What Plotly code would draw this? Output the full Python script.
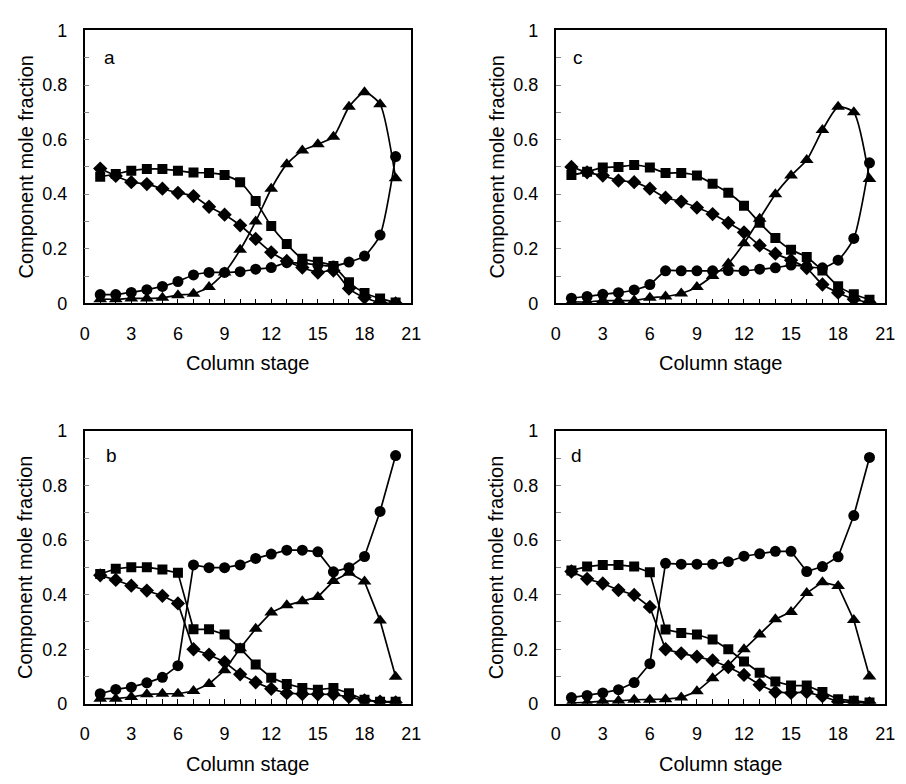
import plotly.graph_objects as go

stages = list(range(1, 21))

# Panel a
a_diamond = [0.494, 0.467, 0.444, 0.437, 0.42, 0.405, 0.393, 0.354, 0.325, 0.286,
             0.236, 0.187, 0.155, 0.131, 0.113, 0.12, 0.054, 0.021, 0.003, 0.0]
a_square = [0.464, 0.474, 0.486, 0.492, 0.492, 0.486, 0.479, 0.478, 0.47, 0.444,
            0.375, 0.283, 0.217, 0.163, 0.152, 0.137, 0.077, 0.038, 0.018, 0.003]
a_triangle = [0.015, 0.015, 0.018, 0.018, 0.02, 0.03, 0.035, 0.06, 0.113, 0.196,
              0.30, 0.42, 0.51, 0.56, 0.583, 0.61, 0.72, 0.774, 0.73, 0.458]
a_circle = [0.032, 0.032, 0.04, 0.05, 0.062, 0.08, 0.104, 0.113, 0.113, 0.116,
            0.125, 0.131, 0.149, 0.147, 0.14, 0.137, 0.151, 0.173, 0.25, 0.538]

# Panel c
c_diamond = [0.50, 0.48, 0.468, 0.45, 0.444, 0.42, 0.387, 0.373, 0.351, 0.327,
             0.295, 0.26, 0.212, 0.182, 0.158, 0.129, 0.069, 0.039, 0.015, 0.003]
c_square = [0.47, 0.482, 0.498, 0.50, 0.507, 0.498, 0.478, 0.478, 0.468, 0.438,
            0.405, 0.358, 0.295, 0.239, 0.196, 0.17, 0.12, 0.063, 0.033, 0.013]
c_triangle = [0.005, 0.005, 0.01, 0.01, 0.01, 0.02, 0.025, 0.036, 0.06, 0.10,
              0.146, 0.22, 0.31, 0.40, 0.468, 0.525, 0.635, 0.72, 0.70, 0.456]
c_circle = [0.019, 0.025, 0.033, 0.039, 0.049, 0.069, 0.119, 0.119, 0.119, 0.119,
            0.12, 0.119, 0.125, 0.13, 0.14, 0.135, 0.13, 0.158, 0.238, 0.515]

# Panel b
b_diamond = [0.471, 0.454, 0.433, 0.415, 0.396, 0.368, 0.20, 0.18, 0.153, 0.108,
             0.079, 0.055, 0.039, 0.036, 0.035, 0.035, 0.025, 0.013, 0.008, 0.005]
b_square = [0.476, 0.495, 0.501, 0.501, 0.492, 0.48, 0.273, 0.273, 0.254, 0.204,
            0.144, 0.096, 0.073, 0.058, 0.052, 0.058, 0.039, 0.015, 0.008, 0.008]
b_triangle = [0.019, 0.019, 0.025, 0.035, 0.037, 0.037, 0.047, 0.073, 0.123, 0.204,
              0.275, 0.335, 0.361, 0.376, 0.392, 0.45, 0.48, 0.448, 0.305, 0.099]
b_circle = [0.037, 0.053, 0.061, 0.077, 0.097, 0.14, 0.509, 0.499, 0.499, 0.509,
            0.533, 0.549, 0.563, 0.563, 0.557, 0.484, 0.499, 0.54, 0.705, 0.91]

# Panel d
d_diamond = [0.485, 0.458, 0.441, 0.417, 0.399, 0.355, 0.20, 0.185, 0.173, 0.159,
             0.135, 0.106, 0.07, 0.043, 0.04, 0.043, 0.028, 0.008, 0.005, 0.002]
d_square = [0.489, 0.503, 0.509, 0.509, 0.503, 0.482, 0.272, 0.26, 0.254, 0.236,
            0.2, 0.155, 0.114, 0.082, 0.067, 0.067, 0.043, 0.017, 0.011, 0.005]
d_triangle = [0.003, 0.005, 0.01, 0.011, 0.015, 0.015, 0.017, 0.023, 0.046, 0.094,
              0.141, 0.2, 0.254, 0.31, 0.337, 0.406, 0.446, 0.432, 0.307, 0.10]
d_circle = [0.023, 0.031, 0.04, 0.052, 0.078, 0.147, 0.515, 0.512, 0.512, 0.512,
            0.521, 0.541, 0.55, 0.559, 0.559, 0.485, 0.503, 0.539, 0.69, 0.903]

x_ticks = [0, 3, 6, 9, 12, 15, 18, 21]
y_ticks = [0, 0.2, 0.4, 0.6, 0.8, 1]
y_ticktext = ["0", "0.2", "0.4", "0.6", "0.8", "1"]
x_title = "Column stage"
y_title = "Component mole fraction"

FONT = "Liberation Sans, Arial, sans-serif"

panels = [
    # label, axis suffix, smooth lines, label position, data
    ("a", "", True, (1.6, 0.9), [a_diamond, a_square, a_triangle, a_circle]),
    ("c", "2", True, (1.4, 0.9), [c_diamond, c_square, c_triangle, c_circle]),
    ("b", "3", False, (1.7, 0.91), [b_diamond, b_square, b_triangle, b_circle]),
    ("d", "4", False, (1.3, 0.91), [d_diamond, d_square, d_triangle, d_circle]),
]

markers = [("diamond", 11), ("square", 10), ("triangle-up", 12), ("circle", 11)]

W, H = 906, 784
xdom_left = [81 / W, 413 / W]
xdom_right = [560 / W, 895 / W]
ydom_top = [1 - 301 / H, 1 - 21 / H]
ydom_bot = [1 - 712 / H, 1 - 432 / H]

fig = go.Figure()
for label, ax, smooth, (lx, ly), series in panels:
    for vals, (sym, sz) in zip(series, markers):
        fig.add_trace(go.Scatter(
            x=stages, y=vals, mode="lines+markers",
            xaxis="x" + ax, yaxis="y" + ax,
            line=dict(color="black", width=1.7, shape="spline" if smooth else "linear",
                      smoothing=0.6),
            marker=dict(symbol=sym, size=sz, color="black"),
            showlegend=False, hoverinfo="skip"))
    fig.add_annotation(x=lx, y=ly, xref="x" + ax, yref="y" + ax, text=label,
                       showarrow=False, font=dict(size=19, color="black", family=FONT))

# axis titles placed as annotations
title_font = dict(size=20, color="black", family=FONT)
for xdom, xt_px in [(xdom_left, 21), (xdom_right, 500)]:
    for ydom, xlab_px in [(ydom_top, 362), (ydom_bot, 774)]:
        fig.add_annotation(x=(xdom[0] + xdom[1]) / 2, y=1 - xlab_px / H, xref="paper", yref="paper",
                           text=x_title, showarrow=False, font=title_font,
                           xanchor="center", yanchor="middle")
        fig.add_annotation(x=xt_px / W, y=(ydom[0] + ydom[1]) / 2, xref="paper", yref="paper",
                           text=y_title, showarrow=False, font=title_font, textangle=-90,
                           xanchor="center", yanchor="middle")

def xaxis(dom, anchor):
    return dict(domain=dom, anchor=anchor, range=[0, 21], tickvals=x_ticks,
                ticks="inside", ticklen=5, tickcolor="black", tickwidth=1,
                minor=dict(dtick=1, ticks="inside", ticklen=5, tickcolor="black", tickwidth=1),
                showline=True, linecolor="black", linewidth=1.6, mirror=True,
                showgrid=False, zeroline=False, ticklabelstandoff=13,
                tickfont=dict(size=18, color="black", family=FONT))

def yaxis(dom, anchor):
    return dict(domain=dom, anchor=anchor, range=[0, 1], tickvals=y_ticks, ticktext=y_ticktext,
                ticks="inside", ticklen=5, tickcolor="#888", tickwidth=1,
                minor=dict(dtick=0.1, ticks="inside", ticklen=5, tickcolor="#888", tickwidth=1),
                showline=True, linecolor="black", linewidth=1.6, mirror=True,
                showgrid=False, zeroline=False, ticklabelstandoff=12,
                tickfont=dict(size=18, color="black", family=FONT))

fig.update_layout(
    width=W, height=H,
    margin=dict(l=0, r=0, t=0, b=0),
    paper_bgcolor="white", plot_bgcolor="white",
    font=dict(family=FONT, color="black"),
    xaxis=xaxis(xdom_left, "y"), yaxis=yaxis(ydom_top, "x"),
    xaxis2=xaxis(xdom_right, "y2"), yaxis2=yaxis(ydom_top, "x2"),
    xaxis3=xaxis(xdom_left, "y3"), yaxis3=yaxis(ydom_bot, "x3"),
    xaxis4=xaxis(xdom_right, "y4"), yaxis4=yaxis(ydom_bot, "x4"),
)

fig.write_html("out.html")
